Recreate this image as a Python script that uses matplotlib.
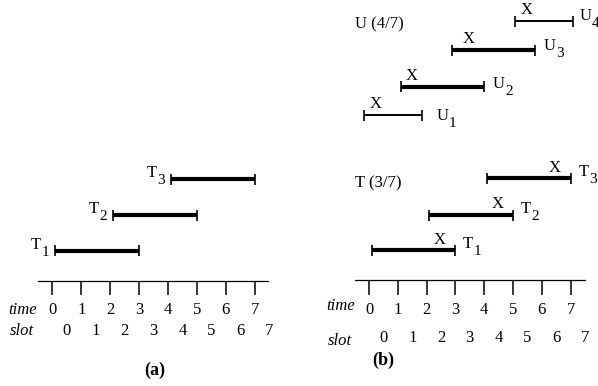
import matplotlib
matplotlib.use("Agg")
import matplotlib.pyplot as plt
from matplotlib.transforms import offset_copy

plt.rcParams['font.family'] = ['Liberation Serif', 'DejaVu Serif']

# ---- data (time units) ----
time_ticks = [0, 1, 2, 3, 4, 5, 6, 7]
slot_labels = [0, 1, 2, 3, 4, 5, 6, 7]
T_letter = "T"
T_subs = ["1", "2", "3"]
T_start = [0.1, 2.1, 4.1]
T_end = [3.0, 5.0, 7.0]
T_x = [2.45, 4.45, 6.45]          # X marks in panel (b)
U_letter = "U"
U_subs = ["1", "2", "3", "4"]
U_start = [-0.17, 1.1, 2.87, 5.07]
U_end = [1.83, 4.0, 5.77, 7.1]
U_x = [0.24, 1.48, 3.47, 5.48]
U_thick = [False, True, True, False]
T_summary = "T (3/7)"
U_summary = "U (4/7)"

# ---- layout (pixel rows) ----
W, H = 598, 386
fig = plt.figure(figsize=(W / 100, H / 100), dpi=100)

FS = 12
SFS = 11
thick_lw = 3.0
thin_lw = 1.4
letter_w = {"T": 0.611 * FS, "U": 0.722 * FS}
sub_w = 0.5 * SFS
sub_drop = 5.0  # points

def make_ax(left_px, right_px, origin_px, scale):
    ax = fig.add_axes([left_px / W, 0, (right_px - left_px) / W, 1])
    ax.set_xlim((left_px - origin_px) / scale, (right_px - origin_px) / scale)
    ax.set_ylim(H, 0)
    ax.axis('off')
    return ax

def bar(ax, s, e, y, lw):
    ax.plot([s, e], [y, y], color='black', lw=lw, solid_capstyle='butt', clip_on=False)
    ax.vlines([s, e], y - 5.5, y + 5.5, color='black', lw=1.2, clip_on=False)

def sublabel(ax, x, y, letter, sub, ha):
    if ha == 'left':
        ax.text(x, y, letter, ha='left', va='baseline', fontsize=FS)
        tr = offset_copy(ax.transData, fig=fig, x=letter_w[letter] + 0.3, y=-sub_drop, units='points')
        ax.text(x, y, sub, ha='left', va='baseline', fontsize=SFS, transform=tr)
    else:
        tr = offset_copy(ax.transData, fig=fig, x=0, y=-sub_drop, units='points')
        ax.text(x, y, sub, ha='right', va='baseline', fontsize=SFS, transform=tr)
        tr2 = offset_copy(ax.transData, fig=fig, x=-(sub_w + 0.3), y=0, units='points')
        ax.text(x, y, letter, ha='right', va='baseline', fontsize=FS, transform=tr2)

def axis_block(ax, x0, x1, y_axis, y_tick_end, y_time, y_slot, time_lbl_y, slot_lbl_y, lbl_x):
    ax.plot([x0, x1], [y_axis, y_axis], color='black', lw=0.9, clip_on=False)
    ax.vlines(time_ticks, y_axis, y_tick_end, color='black', lw=1.1)
    for t in time_ticks:
        ax.text(t, y_time, str(t), ha='center', va='baseline', fontsize=FS)
    for s in slot_labels:
        ax.text(s + 0.5, y_slot, str(s), ha='center', va='baseline', fontsize=FS)
    ax.text(lbl_x, time_lbl_y, "time", ha='right', va='baseline', fontsize=FS, style='italic')
    ax.text(lbl_x - 0.1, slot_lbl_y, "slot", ha='right', va='baseline', fontsize=FS, style='italic')

# ---- panel (a) ----
axa = make_ax(0, 300, 52.3, 28.9)
Ta_y = [250.7, 215.0, 179.3]
for sub, s, e, y in zip(T_subs, T_start, T_end, Ta_y):
    bar(axa, s, e, y, thick_lw)
    sublabel(axa, s - 0.22, y - 2, T_letter, sub, 'right')
axis_block(axa, -0.5, 7.46, 281, 295, 314, 335, 314, 335, -0.53)
axa.text(3.55, 370, "(a)", ha='center', va='center', fontsize=13, fontweight='bold')

# ---- panel (b) ----
axb = make_ax(300, 598, 369.0, 28.8)
Tb_y = [250.0, 215.0, 178.0]
for sub, s, e, xm, y in zip(T_subs, T_start, T_end, T_x, Tb_y):
    bar(axb, s, e, y, thick_lw)
    sublabel(axb, e + 0.27, y - 2, T_letter, sub, 'left')
    axb.text(xm, y - 6.5, "X", ha='center', va='baseline', fontsize=FS)
axb.text(-0.5, 187, T_summary, ha='left', va='baseline', fontsize=FS)

Ub_y = [115.0, 86.7, 50.0, 21.0]
U_lbl_dx = [0.52, 0.3, 0.31, 0.2]
U_lbl_dy = [5, 1.3, 0, -1]
for sub, s, e, xm, thick, y, dx, dy in zip(U_subs, U_start, U_end, U_x, U_thick, Ub_y, U_lbl_dx, U_lbl_dy):
    bar(axb, s, e, y, thick_lw if thick else thin_lw)
    sublabel(axb, e + dx, y + dy, U_letter, sub, 'left')
    axb.text(xm, y - 7, "X", ha='center', va='baseline', fontsize=FS)
axb.text(-0.5, 28, U_summary, ha='left', va='baseline', fontsize=FS)

axis_block(axb, -0.49, 7.5, 280, 295, 314, 342, 310, 345, -0.49)
axb.text(0.5, 360, "(b)", ha='center', va='center', fontsize=13, fontweight='bold')

fig.savefig("out.png", dpi=100)
